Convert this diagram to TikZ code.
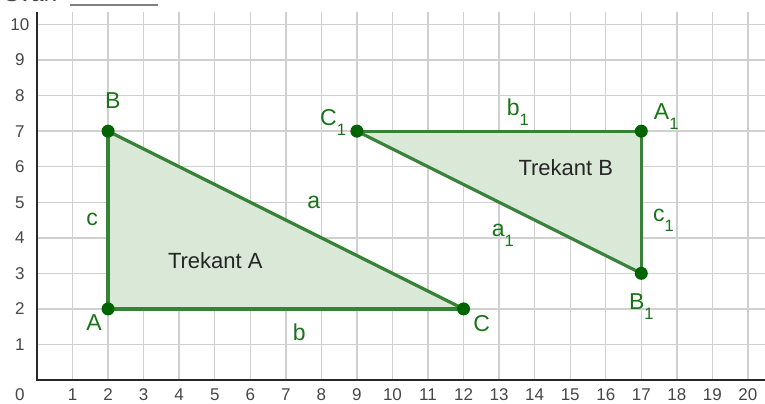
\documentclass[tikz,border=0pt]{standalone}
\usepackage{fontspec}
\setmainfont{Liberation Sans}
\definecolor{gridgray}{RGB}{208,208,208}
\definecolor{axisgray}{RGB}{40,40,40}
\definecolor{tickgray}{RGB}{70,70,70}
\definecolor{seggreen}{RGB}{56,130,56}
\definecolor{fillgreen}{RGB}{217,232,215}
\definecolor{ptgreen}{RGB}{0,100,0}
\definecolor{labgreen}{RGB}{25,115,25}
\newcommand\ggsub[1]{\raisebox{-0.43em}{\fontsize{16.5}{16.5}\selectfont #1}}
\tikzset{
  gridline/.style={draw=gridgray, line width=1.4pt},
  axisline/.style={draw=axisgray, line width=1.3pt},
  ticklab/.style={text=tickgray, font=\fontsize{17}{17}\selectfont, inner sep=0pt},
  seg/.style={draw=seggreen, line width=3.2pt, line join=round},
  tri/.style={fill=fillgreen},
  ptdot/.style={circle, fill=ptgreen, inner sep=0pt, minimum size=13pt},
  vlab/.style={text=labgreen, font=\fontsize{23}{23}\selectfont, anchor=base west, inner sep=0pt},
  trilab/.style={text=black!85, font=\fontsize{22}{22}\selectfont, anchor=base west, inner sep=0pt}
}
\begin{document}
\begin{tikzpicture}[x=35.55pt,y=35.55pt]
\useasboundingbox (-1.041,-0.675) rectangle (20.48,10.69);
\clip (-1.041,-0.675) rectangle (20.48,10.69);
% header fragment
\node[anchor=base west, inner sep=0pt, text=tickgray, font=\fontsize{23}{23}\selectfont] (svar) at (-0.93,10.645) {Svar:};
\coordinate (ulA) at (0.93,10.55);
\coordinate (ulB) at (3.40,10.55);
\draw[draw=gray, line width=2pt] (ulA) -- (ulB);
% grid
\foreach \x in {1,...,20} \draw[gridline] (\x,0) -- (\x,10.35);
\foreach \y in {1,...,10} \draw[gridline] (0,\y) -- (20.6,\y);
% axes
\draw[axisline] (0,10.35) -- (0,0) -- (20.6,0);
% tick labels
\foreach \x in {1,...,20} \node[ticklab] (tx\x) at (\x,-0.42) {\x};
\foreach \y in {1,...,10} \node[ticklab] (ty\y) at (-0.48,\y) {\y};
\node[ticklab] (t0) at (-0.48,-0.42) {0};
% points
\coordinate (A) at (2,2);
\coordinate (B) at (2,7);
\coordinate (C) at (12,2);
\coordinate (A1) at (17,7);
\coordinate (B1) at (17,3);
\coordinate (C1) at (9,7);
% triangles
\fill[tri] (A) -- (B) -- (C) -- cycle;
\fill[tri] (A1) -- (B1) -- (C1) -- cycle;
\draw[seg] (A) -- (B);
\draw[seg] (B) -- (C);
\draw[seg] (C) -- (A);
\draw[seg] (C1) -- (A1);
\draw[seg] (A1) -- (B1);
\draw[seg] (B1) -- (C1);
\foreach \p in {A,B,C,A1,B1,C1} \node[ptdot] (dot\p) at (\p) {};
% vertex labels
\node[vlab] (lA) at (1.38,1.39) {A};
\node[vlab] (lB) at (1.91,7.64) {B};
\node[vlab] (lC) at (12.27,1.36) {C};
\node[vlab] (lA1) at (17.35,7.33) {A\ggsub{1}};
\node[vlab] (lB1) at (16.65,1.97) {B\ggsub{1}};
\node[vlab] (lC1) at (7.96,7.17) {C\ggsub{1}};
% side labels
\node[vlab] (la) at (7.6,4.83) {a};
\node[vlab] (lb) at (7.19,1.11) {b};
\node[vlab] (lc) at (1.38,4.36) {c};
\node[vlab] (la1) at (12.79,4.03) {a\ggsub{1}};
\node[vlab] (lb1) at (13.21,7.43) {b\ggsub{1}};
\node[vlab] (lc1) at (17.33,4.45) {c\ggsub{1}};
% triangle names
\node[trilab] (tA) at (3.68,3.15) {Trekant A};
\node[trilab] (tB) at (13.54,5.75) {Trekant B};
\end{tikzpicture}
\end{document}
